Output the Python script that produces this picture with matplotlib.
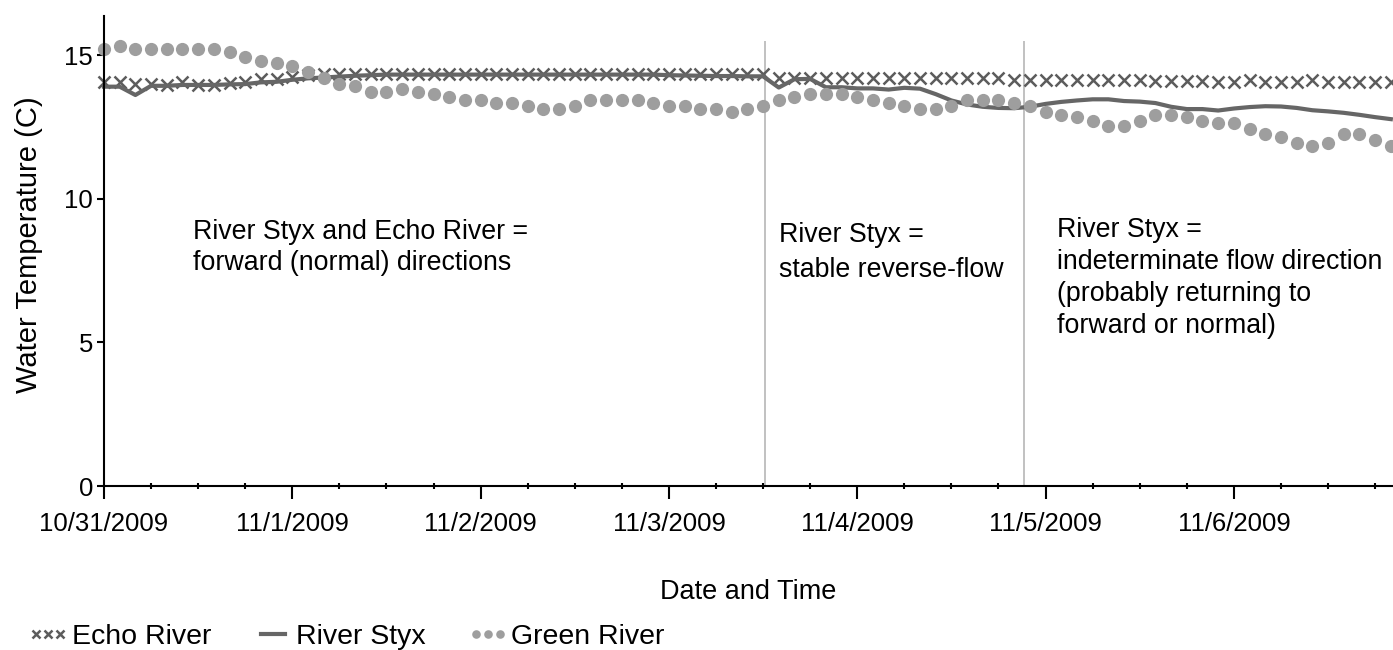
import matplotlib
matplotlib.use('Agg')
import matplotlib.pyplot as plt
import matplotlib.dates as mdates
import pandas as pd

# readings every 2 hours from 10/31/2009 00:00
echo_river = [14.07, 14.07, 13.98, 13.98, 13.96, 14.07, 13.96, 13.96, 14.02, 14.07,
              14.16, 14.17, 14.25, 14.31,
              14.34, 14.34, 14.34, 14.34, 14.34, 14.34, 14.34, 14.34, 14.34, 14.34,
              14.34, 14.34, 14.34, 14.34, 14.34, 14.34, 14.34, 14.34, 14.34, 14.34,
              14.34, 14.34, 14.34, 14.34, 14.34, 14.34, 14.34, 14.34, 14.34,
              14.19, 14.19, 14.19, 14.19, 14.19, 14.19, 14.19, 14.19, 14.19, 14.19,
              14.19, 14.19, 14.19, 14.19, 14.19,
              14.13, 14.13, 14.13, 14.13, 14.13, 14.13, 14.13, 14.13, 14.13,
              14.11, 14.11, 14.11, 14.11,
              14.05, 14.05, 14.13, 14.05, 14.05, 14.07, 14.13, 14.05, 14.05, 14.07,
              14.05, 14.05]

river_styx = [13.90, 13.90, 13.61, 13.93, 13.93, 13.96, 13.96, 13.96, 13.98, 13.99,
              14.05, 14.07, 14.14, 14.19, 14.22, 14.25, 14.28, 14.30,
              14.32, 14.32, 14.32, 14.32, 14.32, 14.32, 14.32, 14.32, 14.32, 14.32,
              14.32, 14.32, 14.32, 14.32, 14.32, 14.32, 14.32, 14.32,
              14.30, 14.29, 14.28, 14.27, 14.27, 14.26, 14.26,
              13.87, 14.16, 14.17, 13.88, 13.88, 13.84, 13.84, 13.80, 13.86, 13.83,
              13.64, 13.42, 13.28, 13.20, 13.16, 13.15, 13.20, 13.30, 13.37, 13.42,
              13.46, 13.46, 13.40, 13.38, 13.33, 13.20, 13.12, 13.12, 13.07, 13.14,
              13.19, 13.22, 13.21, 13.16, 13.08, 13.04, 12.99, 12.92, 12.84, 12.77]

green_river = [15.21, 15.31, 15.21, 15.21, 15.21, 15.21, 15.21, 15.21, 15.09, 14.92,
               14.80, 14.71, 14.63, 14.42, 14.21, 14.01, 13.92, 13.73, 13.73, 13.82,
               13.73, 13.63, 13.53, 13.44, 13.42, 13.32, 13.32, 13.23, 13.12, 13.12,
               13.24, 13.44, 13.44, 13.44, 13.44, 13.33, 13.24, 13.23, 13.12, 13.12,
               13.03, 13.13, 13.23, 13.42, 13.53, 13.63, 13.63, 13.63, 13.53, 13.42,
               13.32, 13.23, 13.12, 13.12, 13.23, 13.44, 13.44, 13.44, 13.33, 13.23,
               13.02, 12.92, 12.83, 12.72, 12.53, 12.53, 12.72, 12.92, 12.91, 12.83,
               12.72, 12.62, 12.62, 12.43, 12.24, 12.14, 11.95, 11.83, 11.95, 12.24,
               12.24, 12.04, 11.83]

times = pd.date_range('2009-10-31 00:00', periods=len(green_river), freq='2h')

phase_breaks = ['2009-11-03 12:15', '2009-11-04 21:15']
note_times = ['2009-10-31 11:20', '2009-11-03 14:00', '2009-11-05 01:30']
note_texts = ['River Styx and Echo River =\nforward (normal) directions',
              'River Styx =\nstable reverse-flow',
              'River Styx =\nindeterminate flow direction\n(probably returning to\nforward or normal)']

plt.rcParams['font.family'] = ['Liberation Sans', 'DejaVu Sans']

fig = plt.figure(figsize=(13.93, 6.5), dpi=100)
ax = fig.add_axes([104/1393, 164/650, 1289/1393, 470/650])

ax.plot(times, echo_river, linestyle='None', marker='x', markersize=8,
        markeredgewidth=1.8, color='#5c5c5c', label='Echo River', clip_on=False)
ax.plot(times, river_styx, color='#666666', linewidth=3, label='River Styx',
        clip_on=False)
ax.plot(times, green_river, linestyle='None', marker='o', markersize=9.5,
        color='#9e9e9e', markeredgewidth=0, label='Green River', clip_on=False)

for b in phase_breaks:
    ax.vlines(pd.Timestamp(b), 0, 15.5, color='#b0b0b0', linewidth=1.1, zorder=1)

note_y = [9.31, 9.2, 9.38]
note_spacing = [1.28, 1.45, 1.3]
for when, txt, y, ls in zip(note_times, note_texts, note_y, note_spacing):
    ax.text(pd.Timestamp(when), y, txt, fontsize=19.3, va='top', ha='left',
            linespacing=ls)

start = mdates.date2num(times[0])
ax.set_xlim(start, start + 6.845)
ax.set_ylim(0, 16.36)
ax.set_yticks([0, 5, 10, 15])

ax.xaxis.set_major_locator(mdates.DayLocator())
ax.xaxis.set_minor_locator(mdates.HourLocator(byhour=[6, 12, 18]))
ax.xaxis.set_major_formatter(plt.FuncFormatter(
    lambda v, pos: '{d.month}/{d.day}/{d.year}'.format(d=mdates.num2date(v))))

for s in ['top', 'right']:
    ax.spines[s].set_visible(False)
for s in ['left', 'bottom']:
    ax.spines[s].set_linewidth(1.5)

ax.tick_params(axis='x', which='major', direction='out', length=9, width=1.5,
               labelsize=18.5, pad=10)
ax.tick_params(axis='x', which='minor', direction='inout', length=5, width=1.5)
ax.tick_params(axis='y', which='major', direction='out', length=5, width=1.5,
               labelsize=18.5, pad=3)

ax.set_xlabel('Date and Time', fontsize=19.5, labelpad=31)
ax.set_ylabel('Water Temperature (C)', fontsize=21)
ax.yaxis.set_label_coords(-0.047, 0.514)

fig.legend(loc='center left', bbox_to_anchor=(0.02, 0.02), ncol=3,
           frameon=False, fontsize=20.5, numpoints=3, markerscale=0.65,
           handlelength=1.44, handletextpad=0.1, columnspacing=1.45,
           borderpad=0, borderaxespad=0)

fig.savefig('out.png', dpi=100)
